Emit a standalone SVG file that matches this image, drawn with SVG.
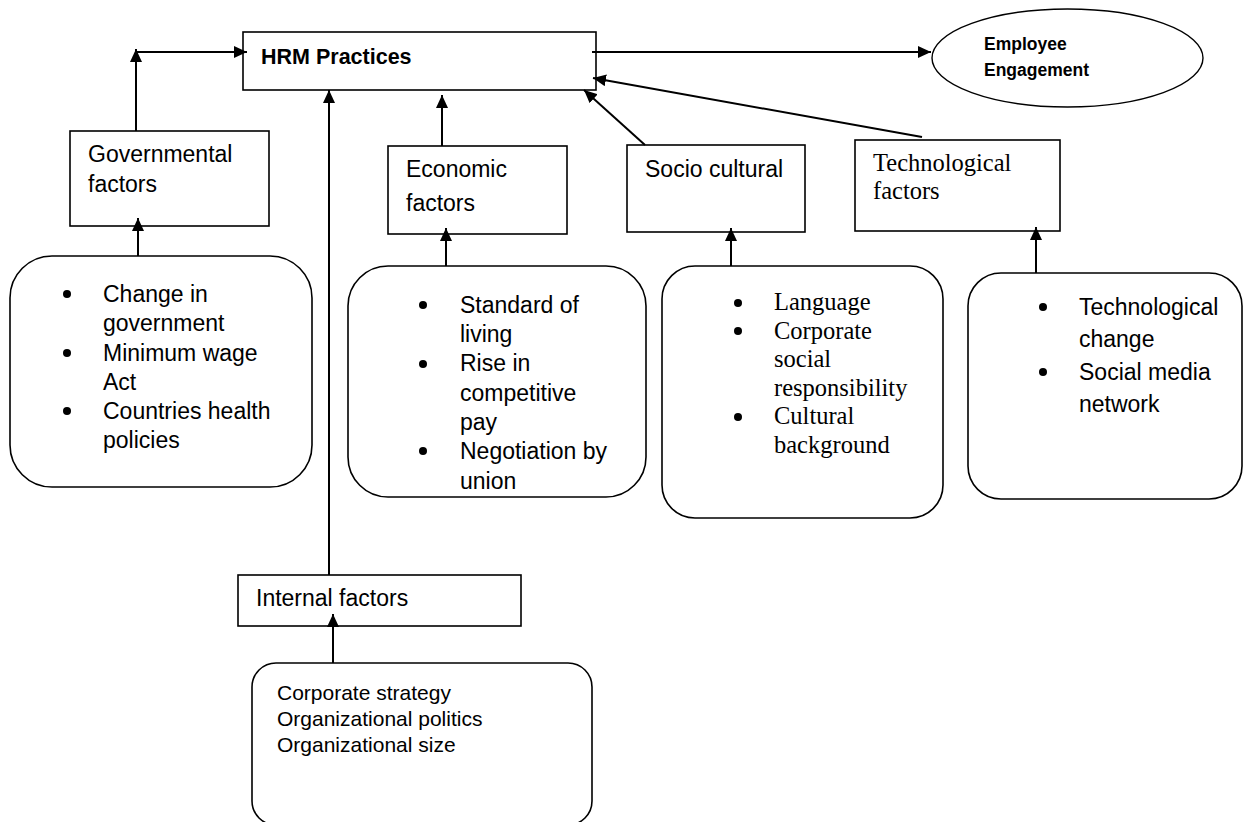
<svg xmlns="http://www.w3.org/2000/svg" width="1243" height="822" viewBox="0 0 1243 822">
  <style>
    .box { fill: #ffffff; stroke: #000000; stroke-width: 1.6; }
    .oval { fill: #ffffff; stroke: #000000; stroke-width: 1.4; }
    .sans { font-family: "Liberation Sans", Arial, sans-serif; font-size: 23px; fill: #000000; }
    .serif { font-family: "Liberation Serif", "Times New Roman", serif; font-size: 24.5px; fill: #000000; }
    .bold { font-weight: bold; }
    .small { font-size: 21px; }
    .bullet { fill: #000000; }
    .conn line { stroke: #000000; stroke-width: 2; fill: none; marker-end: url(#head); }
  </style>
  <defs>
    <marker id="head" markerUnits="userSpaceOnUse" markerWidth="14" markerHeight="12" refX="13" refY="6" orient="auto">
      <path d="M0,0 L13,6 L0,12 z" fill="#000000"/>
    </marker>
  </defs>
  <rect width="1243" height="822" fill="#ffffff"/>

  <!-- central practices box -->
  <g id="hrm">
    <rect class="box" x="243" y="32" width="353" height="58"/>
    <text class="sans bold" x="261" y="64" style="font-size:21.5px">HRM Practices</text>
  </g>

  <!-- outcome -->
  <g id="engagement">
    <ellipse class="oval" cx="1067.5" cy="58" rx="135.5" ry="49"/>
    <text class="sans bold" x="984" y="50" style="font-size:17.5px">Employee</text>
    <text class="sans bold" x="984" y="76" style="font-size:17.5px">Engagement</text>
  </g>

  <!-- factor boxes -->
  <g id="governmental">
    <rect class="box" x="70" y="131" width="199" height="95"/>
    <text class="sans" x="88" y="162">Governmental</text>
    <text class="sans" x="88" y="192">factors</text>
  </g>

  <g id="economic">
    <rect class="box" x="388" y="146" width="179" height="88"/>
    <text class="sans" x="406" y="177">Economic</text>
    <text class="sans" x="406" y="211">factors</text>
  </g>

  <g id="sociocultural">
    <rect class="box" x="627" y="145" width="178" height="87"/>
    <text class="sans" x="645" y="177">Socio cultural</text>
  </g>

  <g id="technological">
    <rect class="box" x="855" y="140" width="205" height="91"/>
    <text class="serif" x="873" y="171">Technological</text>
    <text class="serif" x="873" y="199">factors</text>
  </g>

  <g id="internal">
    <rect class="box" x="238" y="575" width="283" height="51"/>
    <text class="sans" x="256" y="606">Internal factors</text>
  </g>

  <!-- detail lists -->
  <g id="governmental-items">
    <rect class="box" x="10" y="256" width="302" height="231" rx="42" ry="42"/>
    <circle class="bullet" cx="67" cy="294" r="4"/>
    <circle class="bullet" cx="67" cy="353" r="4"/>
    <circle class="bullet" cx="67" cy="411" r="4"/>
    <text class="sans" x="103" y="302">Change in</text>
    <text class="sans" x="103" y="331">government</text>
    <text class="sans" x="103" y="361">Minimum wage</text>
    <text class="sans" x="103" y="390">Act</text>
    <text class="sans" x="103" y="419">Countries health</text>
    <text class="sans" x="103" y="448">policies</text>
  </g>

  <g id="economic-items">
    <rect class="box" x="348" y="266" width="298" height="231" rx="40" ry="40"/>
    <circle class="bullet" cx="423" cy="305" r="4"/>
    <circle class="bullet" cx="423" cy="364" r="4"/>
    <circle class="bullet" cx="423" cy="451" r="4"/>
    <text class="sans" x="460" y="313">Standard of</text>
    <text class="sans" x="460" y="342">living</text>
    <text class="sans" x="460" y="371">Rise in</text>
    <text class="sans" x="460" y="401">competitive</text>
    <text class="sans" x="460" y="430">pay</text>
    <text class="sans" x="460" y="459">Negotiation by</text>
    <text class="sans" x="460" y="489">union</text>
  </g>

  <g id="sociocultural-items">
    <rect class="box" x="662" y="266" width="281" height="252" rx="33" ry="33"/>
    <circle class="bullet" cx="738" cy="303" r="4"/>
    <circle class="bullet" cx="738" cy="331" r="4"/>
    <circle class="bullet" cx="738" cy="417" r="4"/>
    <text class="serif" x="774" y="310">Language</text>
    <text class="serif" x="774" y="338.5">Corporate</text>
    <text class="serif" x="774" y="367">social</text>
    <text class="serif" x="774" y="395.5">responsibility</text>
    <text class="serif" x="774" y="424">Cultural</text>
    <text class="serif" x="774" y="452.5">background</text>
  </g>

  <g id="technological-items">
    <rect class="box" x="968" y="273" width="274" height="226" rx="33" ry="33"/>
    <circle class="bullet" cx="1043" cy="307" r="4"/>
    <circle class="bullet" cx="1043" cy="372" r="4"/>
    <text class="sans" x="1079" y="315">Technological</text>
    <text class="sans" x="1079" y="347">change</text>
    <text class="sans" x="1079" y="380">Social media</text>
    <text class="sans" x="1079" y="412">network</text>
  </g>

  <g id="internal-items">
    <rect class="box" x="252" y="663" width="340" height="162" rx="24" ry="24"/>
    <text class="sans small" x="277" y="700">Corporate strategy</text>
    <text class="sans small" x="277" y="726">Organizational politics</text>
    <text class="sans small" x="277" y="752">Organizational size</text>
  </g>

  <!-- connectors, drawn over the boxes so heads that touch a border stay visible -->
  <g id="connectors" class="conn">
    <line x1="136" y1="131" x2="136" y2="49"/>
    <line x1="136" y1="52" x2="247" y2="52"/>
    <line x1="329" y1="575" x2="329" y2="90"/>
    <line x1="442" y1="146" x2="442" y2="95"/>
    <line x1="645" y1="145" x2="584" y2="90"/>
    <line x1="922" y1="137" x2="593" y2="78"/>
    <line x1="592" y1="52" x2="931" y2="52"/>
    <line x1="138" y1="256" x2="138" y2="218"/>
    <line x1="446" y1="266" x2="446" y2="228"/>
    <line x1="731" y1="266" x2="731" y2="228"/>
    <line x1="1036" y1="273" x2="1036" y2="227"/>
    <line x1="333" y1="663" x2="333" y2="614"/>
  </g>
</svg>
